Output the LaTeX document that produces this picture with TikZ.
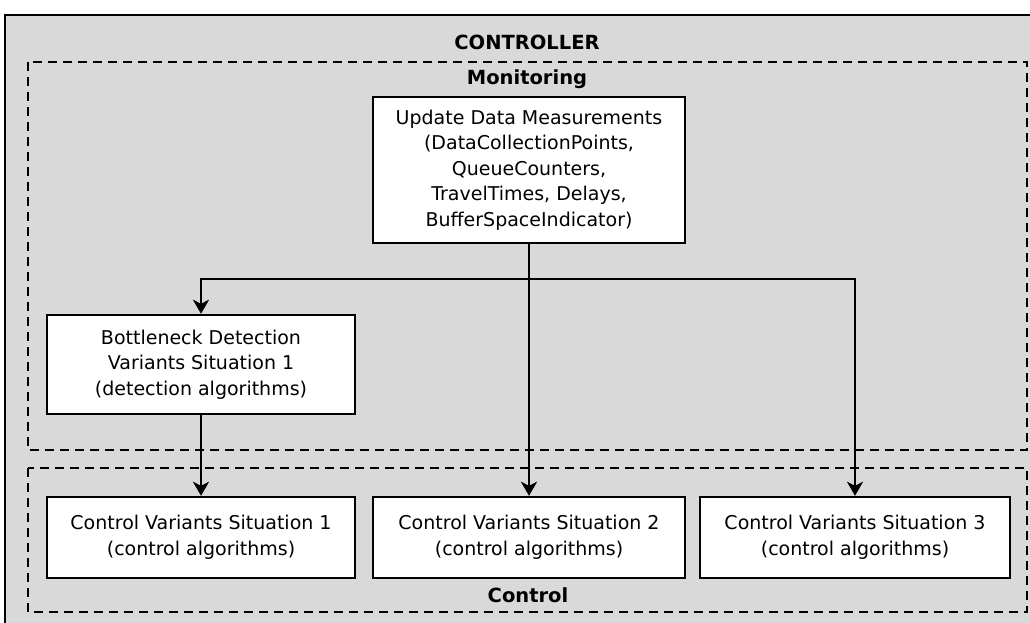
\documentclass[tikz,border=0pt]{standalone}
\usepackage{fontspec}
\setmainfont{DejaVu Sans}
\usetikzlibrary{arrows.meta}
\definecolor{panel}{HTML}{D9D9D9}
\tikzset{
  box/.style={draw=black, line width=2.4pt, fill=white, align=center, inner sep=0pt,
    font=\fontsize{19}{25.5}\selectfont},
  grp/.style={draw=black, line width=2.4pt, dash pattern=on 9pt off 6pt},
  lbl/.style={font=\fontsize{19.5}{22}\selectfont\bfseries, inner sep=0pt, anchor=base},
  arr/.style={draw=black, line width=2.4pt, -{Stealth[length=14pt,width=16pt,inset=4pt]}}
}
\begin{document}
\begin{tikzpicture}[x=1pt,y=-1pt]
\clip (0,0) rectangle (1030,623);
\fill[white] (0,0) rectangle (1030,623);
\draw[line width=2.6pt, fill=panel] (5,15) rectangle (1045,640);
\draw[grp] (28,62) rectangle (1027,450);
\draw[grp] (28,468) rectangle (1027,612);
\node[lbl] (ctl) at (527,50) {CONTROLLER};
\node[lbl] (mon) at (527,85) {Monitoring};
\node[lbl] (con) at (528,602) {Control};
\node[box, minimum width=312pt, minimum height=146pt] (upd) at (529,170)
  {Update Data Measurements\\(DataCollectionPoints,\\QueueCounters,\\TravelTimes, Delays,\\BufferSpaceIndicator)};
\node[box, minimum width=308pt, minimum height=99pt] (bot) at (201,364.5)
  {Bottleneck Detection\\Variants Situation 1\\(detection algorithms)};
\node[box, minimum width=308pt, minimum height=81pt] (c1) at (201,537.5)
  {Control Variants Situation 1\\(control algorithms)};
\node[box, minimum width=312pt, minimum height=81pt] (c2) at (529,537.5)
  {Control Variants Situation 2\\(control algorithms)};
\node[box, minimum width=310pt, minimum height=81pt] (c3) at (855,537.5)
  {Control Variants Situation 3\\(control algorithms)};
\coordinate (split) at (529,279);
\draw[arr] (upd.south) -- (c2.north);
\draw[arr] (split) -| (bot.north);
\draw[arr] (split) -| (c3.north);
\draw[arr] (bot.south) -- (c1.north);
\end{tikzpicture}
\end{document}
